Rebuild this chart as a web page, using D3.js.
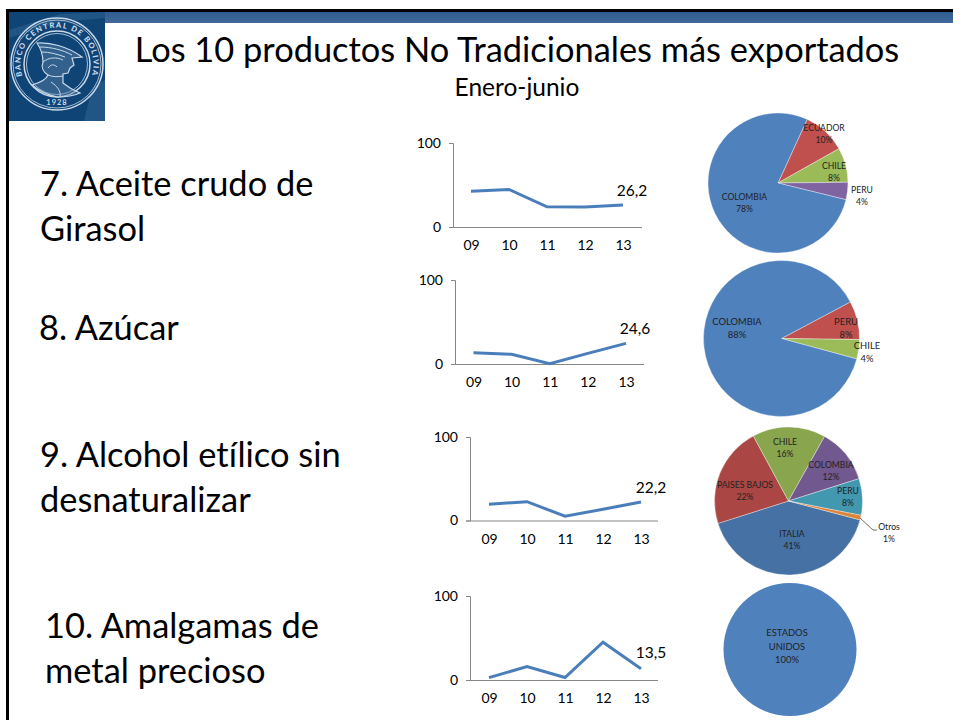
<!DOCTYPE html>
<html>
<head>
<meta charset="utf-8">
<script src="https://cdn.jsdelivr.net/npm/d3@7"></script>
<style>
html, body { margin: 0; padding: 0; background: #fff; }
svg { display: block; }
text { font-family: Lato, "Open Sans", sans-serif; fill: #000; font-variant-ligatures: none; }
</style>
</head>
<body>
<svg id="slide" width="953" height="720"></svg>
<script>
var years = ["09", "10", "11", "12", "13"];
var yTicks = [0, 100];

var girasolValues = [42.7, 44.7, 24.1, 23.7, 26.2];
var azucarValues = [13.4, 11.5, 0.3, 12.6, 24.6];
var alcoholValues = [19.6, 22.5, 5.1, 13.4, 22.2];
var amalgamaValues = [2.8, 16, 3, 45, 13.5];

var girasolLabel = "26,2";
var azucarLabel = "24,6";
var alcoholLabel = "22,2";
var amalgamaLabel = "13,5";

var girasolPaises = ["ECUADOR", "CHILE", "PERU", "COLOMBIA"];
var girasolShares = [10, 8, 4, 78];
var azucarPaises = ["PERU", "CHILE", "COLOMBIA"];
var azucarShares = [8, 4, 88];
var alcoholPaises = ["ITALIA", "PAISES BAJOS", "CHILE", "COLOMBIA", "PERU", "Otros"];
var alcoholShares = [41, 22, 16, 12, 8, 1];
var amalgamaPaises = ["ESTADOS UNIDOS"];
var amalgamaShares = [100];

var svg = d3.select("#slide");
var deg = Math.PI / 180;

// frame and header band
var defs = svg.append("defs");
var band = defs.append("linearGradient").attr("id", "band").attr("x1", 0).attr("y1", 0).attr("x2", 0).attr("y2", 1);
band.append("stop").attr("offset", 0).attr("stop-color", "#2f5b90");
band.append("stop").attr("offset", 1).attr("stop-color", "#41699a");

svg.append("rect").attr("x", 8).attr("y", 12).attr("width", 945).attr("height", 11).attr("fill", "url(#band)");
svg.append("rect").attr("x", 6).attr("y", 9).attr("width", 947).attr("height", 3).attr("fill", "#000");
svg.append("rect").attr("x", 6).attr("y", 9).attr("width", 3).attr("height", 711).attr("fill", "#000");

// bank seal, drawn roughly
var logo = svg.append("g");
var ink = "#c9d9e8";
logo.append("rect").attr("x", 9).attr("y", 12).attr("width", 96).attr("height", 109).attr("fill", "#0f4477");
logo.append("path").attr("d", "M9,30 L60,14 L105,12 L105,18 L60,22 L9,38 Z M84,121 L92,88 L105,80 L105,121 Z").attr("fill", "#2a5c8c").attr("opacity", 0.7);
var seal = logo.append("g").attr("transform", "translate(57,64)");
[[46, 1.5], [44, 0.8], [33, 1.5], [30.5, 0.8]].forEach(function(c) {
    seal.append("circle").attr("r", c[0]).attr("fill", "none").attr("stroke", ink).attr("stroke-width", c[1]);
});
defs.append("path").attr("id", "sealArc").attr("d", "M-34.5,12 A36.5,36.5 0 1 1 34.5,12");
seal.append("text").style("font-size", "7.6px").style("font-weight", 900).style("fill", ink)
    .style("letter-spacing", "1.3px")
    .append("textPath").attr("href", "#sealArc").attr("startOffset", "50%").attr("text-anchor", "middle")
    .text("BANCO CENTRAL DE BOLIVIA");
seal.append("text").attr("y", 40.5).attr("text-anchor", "middle").style("font-size", "7.5px").style("font-weight", 700)
    .style("letter-spacing", "1px").style("fill", ink).text("1928");
seal.append("path")
    .attr("d", "M-20,-21 C-8,-22 10,-18 25,-7 L15,-6 L17,1 L13,4 L11,9 L6,10 L6,19 C12,24 18,27 23,29 C14,33 6,33 0,33 C-9,31 -18,27 -25,21 C-18,19 -11,16 -9,11 C-14,8 -16,3 -14,-2 C-14,-8 -16,-15 -20,-21 Z")
    .attr("fill", "#5f86aa").attr("fill-opacity", 0.45).attr("stroke", ink).attr("stroke-width", 1.2);
seal.append("path")
    .attr("d", "M-17,-17 C-6,-17 6,-14 15,-9 M-15,-12 C-8,-12 0,-10 8,-7 M-14,-2 C-8,-7 0,-7 6,-4 M-9,4 C-6,0 -3,0 0,3 M-9,11 C-4,13 0,13 6,12 M-6,18 C0,22 4,27 3,32")
    .attr("fill", "none").attr("stroke", ink).attr("stroke-width", 1);

// headings
svg.append("text").attr("x", 517).attr("y", 62).attr("text-anchor", "middle").style("font-size", "34.4px")
    .text("Los 10 productos No Tradicionales más exportados");
svg.append("text").attr("x", 517).attr("y", 96).attr("text-anchor", "middle").style("font-size", "24.5px")
    .text("Enero-junio");

var productos = [
    { lines: ["7. Aceite crudo de", "Girasol"], x: 40, y: 196 },
    { lines: ["8. Azúcar"], x: 39, y: 340 },
    { lines: ["9. Alcohol etílico sin", "desnaturalizar"], x: 40, y: 467 },
    { lines: ["10. Amalgamas de", "metal precioso"], x: 45, y: 638 }
];
productos.forEach(function(p) {
    p.lines.forEach(function(line, i) {
        svg.append("text").attr("x", p.x).attr("y", p.y + i * 45).style("font-size", "34.4px").text(line);
    });
});

function lineChart(values, label, box) {
    var x = d3.scalePoint().domain(years).range([box.x0, box.x1]);
    var y = d3.scaleLinear().domain([0, 100]).range([box.y0, box.y100]);
    var g = svg.append("g");

    var yAxis = g.append("g").attr("transform", "translate(" + box.axis + ",0)")
        .call(d3.axisLeft(y).tickValues(yTicks).tickSize(4).tickPadding(8));
    var xAxis = g.append("g").attr("transform", "translate(0," + box.y0 + ")")
        .call(d3.axisBottom(x).tickSize(0).tickPadding(13.5));
    xAxis.select(".domain").attr("d", "M" + box.axis + ",0.5H" + box.end);
    [yAxis, xAxis].forEach(function(a) {
        a.select(".domain").attr("stroke", "#868686");
        a.selectAll("line").attr("stroke", "#868686");
        a.selectAll("text").style("font-size", "14px").style("font-family", "Lato");
    });

    g.append("path").datum(values)
        .attr("fill", "none").attr("stroke", "#4a7ebb").attr("stroke-width", 3)
        .attr("d", d3.line().x(function(d, i) { return x(years[i]); }).y(function(d) { return y(d); }));

    g.append("text").attr("x", box.lx).attr("y", box.ly).attr("text-anchor", "middle").style("font-size", "15.5px").text(label);
}

lineChart(girasolValues, girasolLabel, { axis: 453, end: 642, x0: 471, x1: 623, y0: 227, y100: 143, lx: 632, ly: 196 });
lineChart(azucarValues, azucarLabel, { axis: 455, end: 644, x0: 473.5, x1: 626, y0: 364, y100: 280, lx: 635, ly: 334 });
lineChart(alcoholValues, alcoholLabel, { axis: 470, end: 658, x0: 489, x1: 641, y0: 520.5, y100: 437, lx: 651, ly: 493 });
lineChart(amalgamaValues, amalgamaLabel, { axis: 470, end: 658, x0: 489, x1: 641, y0: 680, y100: 596, lx: 651, ly: 658 });

function pieChart(paises, shares, colors, box) {
    var data = paises.map(function(p, i) { return { pais: p, share: shares[i], color: colors[i] }; });
    var pie = d3.pie().sort(null).value(function(d) { return d.share; }).startAngle(box.start * deg).endAngle((box.start + 360) * deg);
    var arc = d3.arc().innerRadius(0).outerRadius(box.r);
    var g = svg.append("g").attr("transform", "translate(" + box.cx + "," + box.cy + ")");
    g.selectAll("path").data(pie(data)).enter().append("path")
        .attr("d", arc).attr("fill", function(d) { return d.data.color; })
        .attr("stroke", data.length > 1 ? "#fff" : "none").attr("stroke-opacity", 0.6).attr("stroke-width", 0.6);

    data.forEach(function(d, i) {
        var pos = box.labels[i];
        var lines = d.pais === "ESTADOS UNIDOS" ? ["ESTADOS", "UNIDOS"] : [d.pais];
        lines.push(d.share + "%");
        lines.forEach(function(line, k) {
            svg.append("text").attr("x", pos[0]).attr("y", pos[1] + k * box.lead).attr("text-anchor", "middle")
                .style("font-size", box.size + "px").style("fill", "#222").text(line);
        });
    });
}

var officeColors = ["#c0504d", "#9bbb59", "#8064a2", "#4f81bd"];
pieChart(girasolPaises, girasolShares, officeColors,
    { cx: 778, cy: 183, r: 70, start: 24.6, size: 8.6, lead: 12, labels: [[824, 131], [834, 169], [862, 193], [744.5, 200]] });
pieChart(azucarPaises, azucarShares, ["#c0504d", "#9bbb59", "#4f81bd"],
    { cx: 781.5, cy: 338.5, r: 78, start: 62, size: 9.4, lead: 13, labels: [[846, 325], [867, 349], [737, 325]] });
pieChart(alcoholPaises, alcoholShares, ["#4571a4", "#aa4643", "#89a54e", "#71588f", "#4198af", "#db843d"],
    { cx: 788.5, cy: 501, r: 74, start: 104.8, size: 8.6, lead: 12, labels: [[792, 537], [745, 488], [785, 445], [831, 468], [848, 494], [889, 530]] });
pieChart(amalgamaPaises, amalgamaShares, ["#4f81bd"],
    { cx: 790, cy: 649.5, r: 66.5, start: 0, size: 9.4, lead: 13.5, labels: [[787, 636]] });

// leader line for Otros
svg.append("path").attr("d", d3.line()([[860, 518], [873, 530], [877, 530]])).attr("fill", "none").attr("stroke", "#333").attr("stroke-width", 0.7);
</script>
</body>
</html>
